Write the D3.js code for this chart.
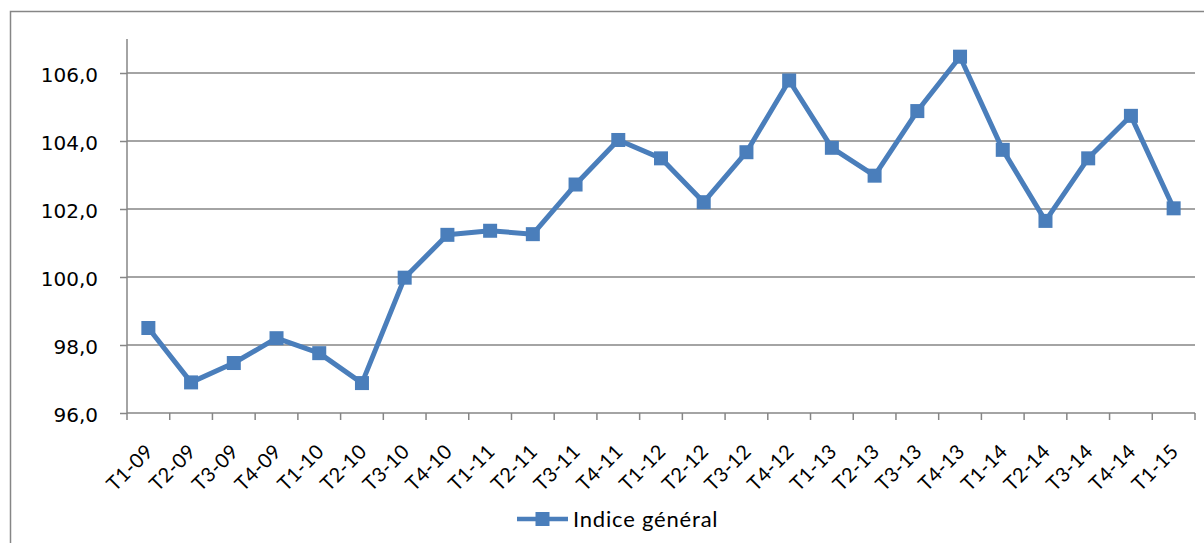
<!DOCTYPE html>
<html>
<head>
<meta charset="utf-8">
<script src="https://cdn.jsdelivr.net/npm/d3@7"></script>
<style>
  body { margin: 0; background: #fff; }
  svg text { font-family: Lato, "Open Sans", sans-serif; fill: #000; }
</style>
</head>
<body>
<svg id="chart" width="1204" height="543"></svg>
<script>
// quarters, T1-09 .. T1-15
var categories = ["T1-09","T2-09","T3-09","T4-09","T1-10","T2-10","T3-10","T4-10",
  "T1-11","T2-11","T3-11","T4-11","T1-12","T2-12","T3-12","T4-12",
  "T1-13","T2-13","T3-13","T4-13","T1-14","T2-14","T3-14","T4-14","T1-15"];
var indiceGeneral = [98.5, 96.9, 97.47, 98.2, 97.76, 96.88, 99.98, 101.24,
  101.36, 101.26, 102.72, 104.03, 103.49, 102.2, 103.67, 105.78,
  103.8, 102.98, 104.88, 106.48, 103.74, 101.65, 103.49, 104.74, 102.02];
var yTicks = [96, 98, 100, 102, 104, 106];
var seriesName = "Indice général";

var svg = d3.select("#chart");
var blue = "#4a7ebb", grey = "#868686";

// outer frame (right and bottom edges fall outside the picture)
svg.append("rect")
  .attr("x", 10.5).attr("y", 11.5)
  .attr("width", 1300).attr("height", 600)
  .attr("fill", "none").attr("stroke", grey).attr("stroke-width", 1.5);

var plotL = 127, plotR = 1195, plotT = 39, plotB = 413;

var x = d3.scaleBand().domain(categories).range([plotL, plotR]);
var y = d3.scaleLinear().domain([96, 107]).range([plotB, plotT]);

// gridlines
svg.append("g").selectAll("line")
  .data(yTicks.slice(1))
  .join("line")
  .attr("x1", plotL).attr("x2", plotR)
  .attr("y1", d => y(d)).attr("y2", d => y(d))
  .attr("stroke", grey).attr("stroke-width", 1.5);

// y axis
var yAxis = svg.append("g")
  .attr("transform", "translate(" + plotL + ",0)")
  .call(d3.axisLeft(y).tickValues(yTicks).tickSize(7).tickPadding(22)
    .tickFormat(d => d3.format(".1f")(d).replace(".", ",")));
yAxis.select(".domain").attr("d", "M0," + plotT + "V" + plotB);
yAxis.selectAll("line, path").attr("stroke", grey).attr("stroke-width", 1.5);
yAxis.selectAll("text")
  .style("font-family", "'DejaVu Sans', sans-serif")
  .style("font-size", "20px")
  .attr("dy", "0.4em");

// x axis: ticks on category edges
var xg = svg.append("g");
xg.append("line")
  .attr("x1", plotL).attr("x2", plotR).attr("y1", plotB).attr("y2", plotB)
  .attr("stroke", grey).attr("stroke-width", 1.5);
xg.selectAll(".tk")
  .data(categories.map(c => x(c)).concat([plotR]))
  .join("line")
  .attr("class", "tk")
  .attr("x1", d => d).attr("x2", d => d)
  .attr("y1", plotB).attr("y2", plotB + 7)
  .attr("stroke", grey).attr("stroke-width", 1.5);
xg.selectAll("text")
  .data(categories)
  .join("text")
  .attr("transform", d => "translate(" + (x(d) + x.bandwidth() / 2 + 1) + "," + 448 + ") rotate(-45)")
  .attr("text-anchor", "end")
  .attr("dy", "0.35em")
  .style("font-size", "20px")
  .style("letter-spacing", "0.3px")
  .text(d => d);

// line + square markers
var cx = (d, i) => x(categories[i]) + x.bandwidth() / 2;
svg.append("path")
  .datum(indiceGeneral)
  .attr("fill", "none")
  .attr("stroke", blue)
  .attr("stroke-width", 5)
  .attr("stroke-linejoin", "round")
  .attr("d", d3.line().x(cx).y(d => y(d)));

svg.append("g").selectAll("rect")
  .data(indiceGeneral)
  .join("rect")
  .attr("x", (d, i) => cx(d, i) - 7)
  .attr("y", d => y(d) - 7)
  .attr("width", 14).attr("height", 14)
  .attr("fill", blue);

// legend
var lg = svg.append("g").attr("transform", "translate(517,519)");
lg.append("line").attr("x1", 0).attr("x2", 51).attr("y1", 0).attr("y2", 0)
  .attr("stroke", blue).attr("stroke-width", 4.5);
lg.append("rect").attr("x", 18.5).attr("y", -7).attr("width", 14).attr("height", 14)
  .attr("fill", blue);
lg.append("text").attr("x", 56).attr("y", 0).attr("dy", "0.36em")
  .style("font-size", "22px")
  .style("letter-spacing", "0.8px")
  .text(seriesName);
</script>
</body>
</html>
